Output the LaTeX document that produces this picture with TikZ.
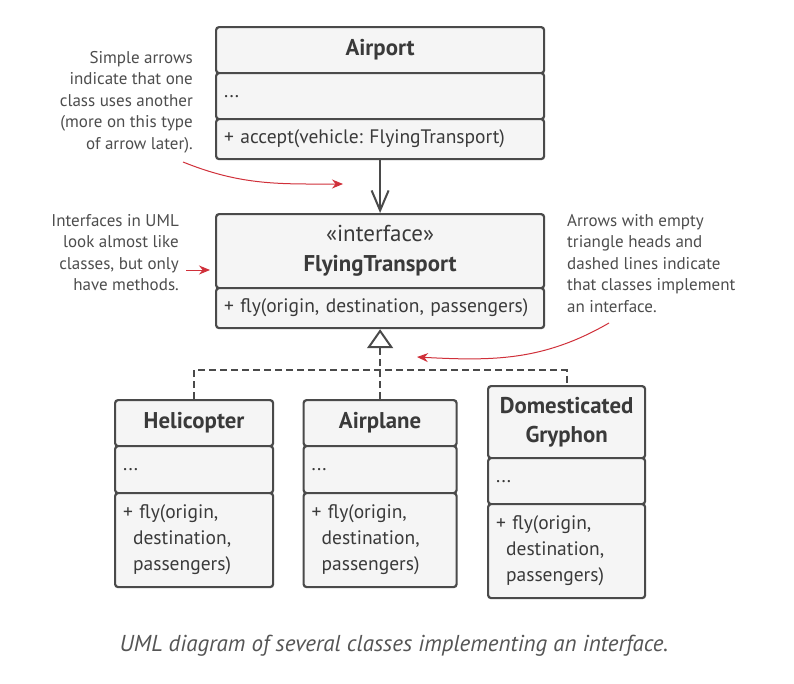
\documentclass[tikz,border=0pt]{standalone}
\usepackage{fontspec}
\setmainfont{PT Sans}
\usepackage{xcolor}
\usepackage{tikz}
\usetikzlibrary{arrows.meta}
\frenchspacing
\definecolor{bg}{HTML}{FFFFFF}
\definecolor{boxbg}{HTML}{F5F5F5}
\definecolor{edge}{HTML}{4A4A4A}
\definecolor{ink}{HTML}{3A3A3A}
\definecolor{muted}{HTML}{4D4D4D}
\definecolor{capt}{HTML}{555555}
\definecolor{redarr}{HTML}{D0303A}
\tikzset{
  cls/.style={draw=edge, fill=boxbg, line width=2.2pt, rounded corners=3pt, anchor=north west,
    inner xsep=8pt, inner ysep=0pt, text=ink, font=\fontsize{19.5}{26}\selectfont},
  clstitle/.style={cls, align=center, font=\fontsize{22.8}{29}\selectfont\bfseries},
  clsbody/.style={cls, align=left},
  rel/.style={draw=edge, line width=2pt},
  uses/.style={rel, -{Straight Barb[length=20pt, width=17pt, line width=2pt]}},
  realize/.style={rel, -{Triangle[open, length=19pt, width=26pt, fill=white, line width=2pt]}},
  impl/.style={rel, dash pattern=on 7pt off 4pt},
  note/.style={draw=redarr, line width=1pt, -{Stealth[length=11pt, width=9pt, fill=redarr]}},
  lab/.style={text=muted, font=\fontsize{17}{21.5}\selectfont, inner sep=0pt},
}

\begin{document}
\begin{tikzpicture}[x=1pt, y=-1pt]
  \useasboundingbox[fill=bg] (0,0) rectangle (794,683);

  % Airport
  \node[clstitle, text width=312pt, minimum height=46pt] (airportT) at (215,26) {Airport};
  \node[clsbody, text width=312pt, minimum height=46pt] (airportA) at (215,72) {...};
  \node[clsbody, text width=312pt, minimum height=40pt] (airportM) at (215,118) {+ accept(vehicle: FlyingTransport)};

  % interface
  \node[clstitle, text width=312pt, minimum height=74pt] (flyT) at (215,213)
    {{\mdseries\fontsize{23}{29}\selectfont «interface»}\\[1pt]FlyingTransport};
  \node[clsbody, text width=312pt, minimum height=40pt] (flyM) at (215,287) {+ fly(origin, destination, passengers)};

  % classes
  \node[clstitle, text width=142pt, minimum height=46pt] (heliT) at (114,399) {Helicopter};
  \node[clsbody, text width=142pt, minimum height=47pt] (heliA) at (114,445) {...};
  \node[clsbody, text width=142pt, minimum height=94pt] (heliM) at (114,492)
    {+ fly(origin,\\\hspace*{10pt}destination,\\\hspace*{10pt}passengers)};

  \node[clstitle, text width=137pt, minimum height=46pt] (airT) at (302.5,399) {Airplane};
  \node[clsbody, text width=137pt, minimum height=47pt] (airA) at (302.5,445) {...};
  \node[clsbody, text width=137pt, minimum height=94pt] (airM) at (302.5,492)
    {+ fly(origin,\\\hspace*{10pt}destination,\\\hspace*{10pt}passengers)};

  \node[clstitle, text width=141pt, minimum height=72pt] (grypT) at (487,385) {Domesticated\\Gryphon};
  \node[clsbody, text width=141pt, minimum height=46pt] (grypA) at (487,457) {...};
  \node[clsbody, text width=141pt, minimum height=94pt] (grypM) at (487,503)
    {+ fly(origin,\\\hspace*{10pt}destination,\\\hspace*{10pt}passengers)};

  % relations
  \coordinate (jn) at (379,370);
  \draw[uses] (airportM.south) -- (flyT.north);
  \draw[impl] (heliT.north) |- (jn) -| (grypT.north);
  \draw[impl, realize] (airT.north) -- (flyM.south);

  % notes
  \node[lab, align=right, anchor=east] (usesnote) at (193,102)
    {Simple arrows\\indicate that one\\class uses another\\(more on this type\\of arrow later).};
  \node[lab, align=right, anchor=east] (ifacenote) at (179,252.5)
    {Interfaces in UML\\look almost like\\classes, but only\\have methods.};
  \node[lab, align=left, anchor=west] (implnote) at (567,263.5)
    {Arrows with empty\\triangle heads and\\dashed lines indicate\\that classes implement\\an interface.};

  \coordinate (usesfrom) at (183,162);
  \coordinate (usesto) at (343,184);
  \coordinate (ifacefrom) at (186,270);
  \coordinate (ifaceto) at (210,270);
  \coordinate (implfrom) at (609,323);
  \coordinate (implto) at (417,357);
  \draw[note] (usesfrom) to[out=-22, in=180] (usesto);
  \draw[note] (ifacefrom) -- (ifaceto);
  \draw[note] (implfrom) to[out=-150, in=-3] (implto);

  % caption
  \node[text=capt, font=\fontsize{23}{28}\selectfont\itshape] (caption) at (394,646)
    {UML diagram of several classes implementing an interface.};
\end{tikzpicture}
\end{document}
